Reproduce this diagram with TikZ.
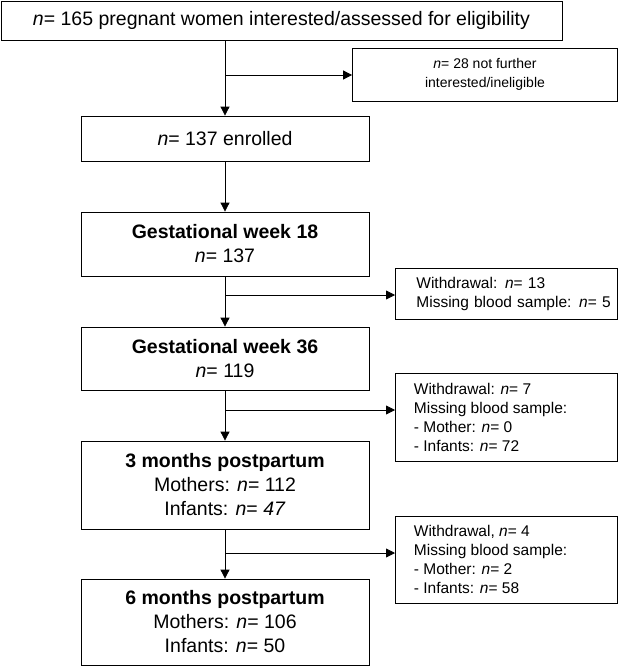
\documentclass[tikz,border=0pt]{standalone}
\usepackage{fontspec}
\setmainfont{Liberation Sans}
\usetikzlibrary{arrows.meta}
\tikzset{
  mainbox/.style={draw, thick, align=center, inner sep=0pt, minimum width=288, font=\fontsize{19.5}{24}\selectfont},
  sidebox/.style={draw, thick, align=left, inner sep=0pt, anchor=north west, font=\fontsize{15.5}{19}\selectfont},
  flow/.style={thick, -{Triangle[length=9pt,width=9pt]}}
}
\begin{document}
\begin{tikzpicture}[x=1pt,y=-1pt]
    \useasboundingbox (0,0) rectangle (619,669);
    \node[mainbox, minimum width=561, minimum height=39] (all) at (281.5,20.5) {\textit{n}= 165 pregnant women interested/assessed for eligibility};
    \node[mainbox, minimum height=45] (enr) at (225,138.5) {\textit{n}= 137 enrolled};
    \node[mainbox, minimum height=64] (gw18) at (225,244) {\textbf{Gestational week 18}\\\textit{n}= 137};
    \node[mainbox, minimum height=63] (gw36) at (225,358.5) {\textbf{Gestational week 36}\\\textit{n}= 119};
    \node[mainbox, minimum height=88] (m3) at (225,485) {\textbf{3 months postpartum}\\Mothers: \textit{n}= 112\\Infants: \textit{n}= \textit{47}};
    \node[mainbox, minimum height=86] (m6) at (225,622) {\textbf{6 months postpartum}\\Mothers: \textit{n}= 106\\Infants: \textit{n}= 50};

    \node[draw, thick, align=center, inner sep=0pt, minimum width=265, minimum height=53, font=\fontsize{14}{19}\selectfont] (out1) at (485,74.5) {\textit{n}= 28 not further\\interested/ineligible};
    \node[sidebox, minimum width=222, minimum height=51, text width=208] (out2) at (395,268) {\hspace*{14pt}\parbox[c][51pt][c]{200pt}{Withdrawal: \textit{n}= 13\\Missing blood sample: \textit{n}= 5}};
    \node[sidebox, minimum width=222, minimum height=88] (out3) at (395,373) {\hspace*{15pt}\parbox[c][88pt][c]{200pt}{Withdrawal: \textit{n}= 7\\Missing blood sample:\\- Mother: \textit{n}= 0\\- Infants: \textit{n}= 72}};
    \node[sidebox, minimum width=222, minimum height=87] (out4) at (395,516) {\hspace*{15pt}\parbox[c][87pt][c]{200pt}{Withdrawal, \textit{n}= 4\\Missing blood sample:\\- Mother: \textit{n}= 2\\- Infants: \textit{n}= 58}};

    \coordinate (b1) at (225,75);
    \coordinate (b2) at (225,295);
    \coordinate (b3) at (225,410);
    \coordinate (b4) at (225,553);

    \draw[flow] (all.south -| b1) -- (enr.north -| b1);
    \draw[flow] (enr.south -| b1) -- (gw18.north -| b1);
    \draw[flow] (gw18.south -| b1) -- (gw36.north -| b1);
    \draw[flow] (gw36.south -| b1) -- (m3.north -| b1);
    \draw[flow] (m3.south -| b1) -- (m6.north -| b1);

    \draw[flow] (b1) -- (b1 -| out1.west);
    \draw[flow] (b2) -- (b2 -| out2.west);
    \draw[flow] (b3) -- (b3 -| out3.west);
    \draw[flow] (b4) -- (b4 -| out4.west);
\end{tikzpicture}
\end{document}
